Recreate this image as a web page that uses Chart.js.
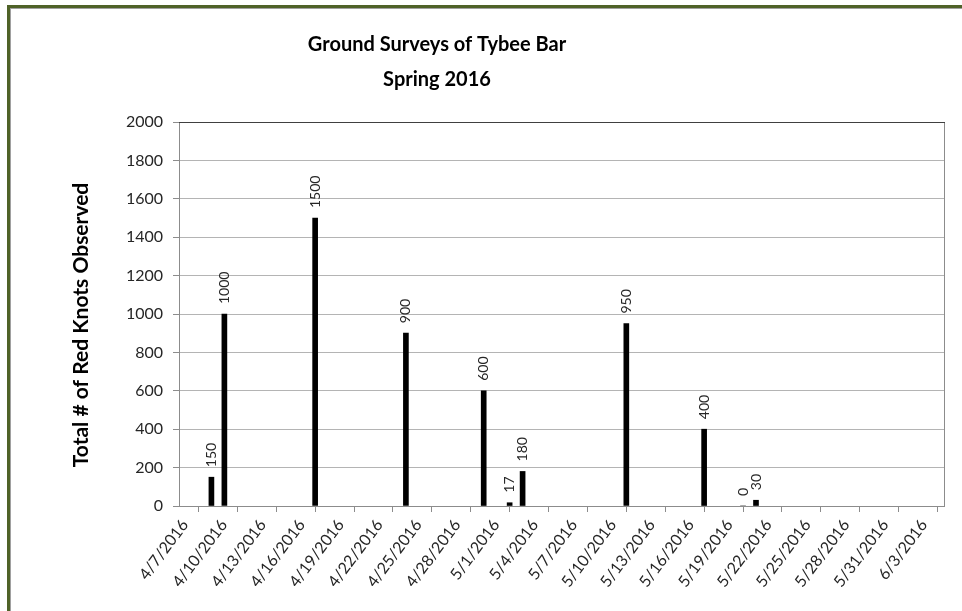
<!DOCTYPE html>
<html>
<head>
<meta charset="utf-8">
<script src="https://cdn.jsdelivr.net/npm/chart.js@4.4.1/dist/chart.umd.min.js"></script>
<style>
  html, body { margin: 0; padding: 0; background: #ffffff; }
  #wrap { width: 962px; height: 611px; position: relative; }
</style>
</head>
<body>
<div id="wrap"><canvas id="c" width="962" height="611"></canvas></div>
<script>
// ---- Data ----
const axisStart = '4/7/2016';
const axisDays = 59; // axis runs 4/7/2016 .. 6/5/2016
const surveyDates = ['4/9/2016', '4/10/2016', '4/17/2016', '4/24/2016', '4/30/2016', '5/2/2016', '5/3/2016', '5/11/2016', '5/17/2016', '5/20/2016', '5/21/2016'];
const redKnots = [150, 1000, 1500, 900, 600, 17, 180, 950, 400, 0, 30];
const xTickLabels = ['4/7/2016', '4/10/2016', '4/13/2016', '4/16/2016', '4/19/2016', '4/22/2016', '4/25/2016', '4/28/2016', '5/1/2016', '5/4/2016', '5/7/2016', '5/10/2016', '5/13/2016', '5/16/2016', '5/19/2016', '5/22/2016', '5/25/2016', '5/28/2016', '5/31/2016', '6/3/2016'];
const yTickValues = [0, 200, 400, 600, 800, 1000, 1200, 1400, 1600, 1800, 2000];
const titleLines = ['Ground Surveys of Tybee Bar', 'Spring 2016'];
const yTitle = 'Total # of Red Knots Observed';

function parseDate(s) {
  const p = s.split('/').map(Number);
  return new Date(p[2], p[0] - 1, p[1]);
}
const start = parseDate(axisStart);
function dayIndex(s) { return Math.round((parseDate(s) - start) / 86400000); }

const points = surveyDates.map((d, i) => ({ x: dayIndex(d) + 0.5, y: redKnots[i] }));

const FONT = 'Lato, "Open Sans", "Liberation Sans", sans-serif';

const framePlugin = {
  id: 'frame',
  beforeDraw(chart) {
    const ctx = chart.ctx;
    ctx.save();
    ctx.fillStyle = '#ffffff';
    ctx.fillRect(0, 0, chart.width, chart.height);
    // outer green frame (runs off right & bottom)
    ctx.fillStyle = '#4f6228';
    ctx.fillRect(7, 5, chart.width, 3);
    ctx.fillRect(7, 5, 3, chart.height);
    ctx.fillStyle = '#a0a0a0';
    ctx.fillRect(10, 8, chart.width, 1);
    ctx.fillRect(10, 8, 1, chart.height);
    ctx.restore();
  },
  afterDatasetsDraw(chart) {
    const a = chart.chartArea;
    const ctx = chart.ctx;
    ctx.save();
    ctx.strokeStyle = '#8c8c8c';
    ctx.lineWidth = 1;
    ctx.beginPath();
    ctx.moveTo(a.right + 0.5, a.top);
    ctx.lineTo(a.right + 0.5, a.bottom);
    ctx.stroke();
    ctx.strokeStyle = '#404040';
    ctx.beginPath();
    ctx.moveTo(a.left, a.top + 0.5);
    ctx.lineTo(a.right + 1, a.top + 0.5);
    ctx.stroke();
    // data labels
    const meta = chart.getDatasetMeta(0);
    ctx.font = '14px ' + FONT;
    ctx.fillStyle = '#262626';
    ctx.textAlign = 'left';
    ctx.textBaseline = 'middle';
    meta.data.forEach((el, i) => {
      ctx.save();
      ctx.translate(el.x, el.y - 10);
      ctx.rotate(-Math.PI / 2);
      ctx.fillText(String(redKnots[i]), 0, 0);
      ctx.restore();
    });
    // chart title (centred over the original, wider chart frame)
    ctx.font = 'bold 20px ' + FONT;
    ctx.fillStyle = '#000000';
    ctx.textAlign = 'center';
    ctx.textBaseline = 'middle';
    titleLines.forEach((t, i) => ctx.fillText(t, 437, 45 + i * 35));
    // y-axis title
    ctx.save();
    ctx.font = 'bold 21px ' + FONT;
    ctx.translate(81, (a.top + a.bottom) / 2 + 11);
    ctx.rotate(-Math.PI / 2);
    ctx.fillText(yTitle, 0, 0);
    ctx.restore();
    ctx.restore();
  }
};

new Chart(document.getElementById('c'), {
  type: 'bar',
  data: {
    datasets: [{
      label: 'Red Knots',
      data: points,
      backgroundColor: '#000000',
      borderWidth: 0,
      barThickness: 5
    }]
  },
  options: {
    responsive: false,
    animation: false,
    events: [],
    layout: { padding: { left: 0, right: 18, top: 122, bottom: 0 } },
    plugins: {
      legend: { display: false },
      tooltip: { enabled: false },
      title: { display: false }
    },
    scales: {
      x: {
        type: 'linear',
        min: 0,
        max: axisDays,
        offset: false,
        grid: { display: true, drawOnChartArea: false, drawTicks: true, tickLength: 6, color: '#8c8c8c' },
        border: { display: true, color: '#8c8c8c' },
        ticks: {
          stepSize: 3,
          includeBounds: false,
          autoSkip: false,
          minRotation: 53,
          maxRotation: 53,
          padding: 4,
          labelOffset: 6,
          color: '#262626',
          font: { family: FONT, size: 16 },
          callback: (v) => (v % 3 === 0 && xTickLabels[v / 3] !== undefined) ? xTickLabels[v / 3] : ''
        },
        afterFit(scale) { scale.height = 105; }
      },
      y: {
        type: 'linear',
        min: yTickValues[0],
        max: yTickValues[yTickValues.length - 1],
        grid: { color: '#b4b4b4', tickLength: 6, drawTicks: true, tickColor: '#8c8c8c' },
        border: { display: true, color: '#8c8c8c' },
        ticks: {
          stepSize: yTickValues[1] - yTickValues[0],
          padding: 10,
          color: '#262626',
          font: { family: FONT, size: 16 },
          callback: (v) => String(v)
        },
        afterFit(scale) { scale.width = 179; }
      }
    }
  },
  plugins: [framePlugin]
});
</script>
</body>
</html>
